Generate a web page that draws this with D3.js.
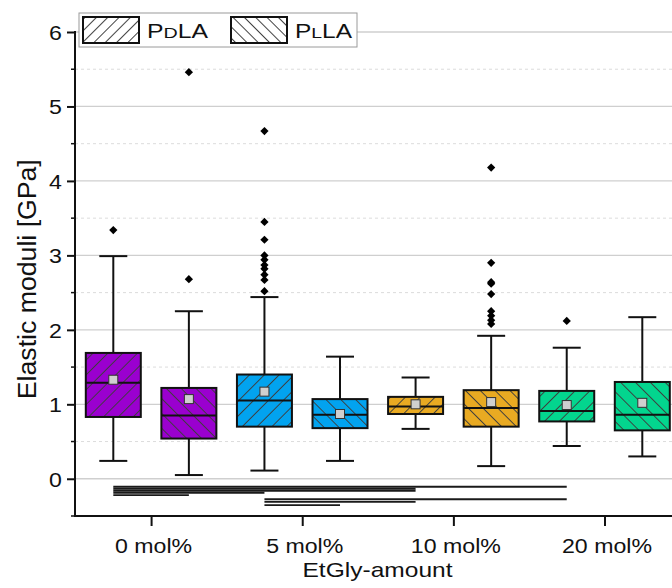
<!DOCTYPE html>
<html>
<head>
<meta charset="utf-8">
<script src="https://cdn.jsdelivr.net/npm/d3@7"></script>
<style>
  html, body { margin: 0; padding: 0; background: #fff; }
  svg { display: block; font-family: "Liberation Sans", Arial, sans-serif; }
</style>
</head>
<body>
<svg id="chart" width="672" height="588"></svg>
<script>
// Elastic moduli of PDLA / PLLA samples at four EtGly amounts
const groups = ["0 mol%", "5 mol%", "10 mol%", "20 mol%"];
const polymers = ["PDLA", "PLLA"];
const groupColors = ["#9a00cf", "#02a3ef", "#e9aa22", "#03d58e"];

// one entry per box, left to right
const boxGroup   = [0, 0, 1, 1, 2, 2, 3, 3];
const boxPolymer = [0, 1, 0, 1, 0, 1, 0, 1];
const whiskerLow  = [0.24, 0.05, 0.11, 0.24, 0.67, 0.17, 0.44, 0.30];
const q1          = [0.83, 0.54, 0.70, 0.68, 0.87, 0.70, 0.77, 0.65];
const median      = [1.29, 0.85, 1.05, 0.86, 0.97, 0.95, 0.91, 0.86];
const q3          = [1.69, 1.22, 1.40, 1.07, 1.10, 1.19, 1.18, 1.30];
const whiskerHigh = [2.99, 2.25, 2.44, 1.64, 1.36, 1.92, 1.76, 2.17];
const mean        = [1.33, 1.07, 1.17, 0.87, 1.00, 1.03, 0.99, 1.02];
const outliers = [
  [3.34],
  [2.68, 5.46],
  [2.52, 2.67, 2.74, 2.82, 2.87, 2.94, 3.00, 3.21, 3.45, 4.67],
  [],
  [],
  [2.08, 2.13, 2.19, 2.25, 2.48, 2.62, 2.64, 2.90, 4.18],
  [2.12],
  []
];

// each group's tick sits between its two boxes
const groupTickPos = [0.5, 2.5, 4.5, 6.5];
const yTicks = [0, 1, 2, 3, 4, 5, 6];
const yMinor = [-0.5, 0.5, 1.5, 2.5, 3.5, 4.5, 5.5];

// significance bars: from box, to box, height (GPa)
const sigFrom  = [0, 0, 0, 0, 0, 2, 2, 2];
const sigTo    = [6, 4, 4, 2, 1, 6, 4, 3];
const sigLevel = [-0.107, -0.134, -0.161, -0.188, -0.219, -0.275, -0.309, -0.353];

const svg = d3.select("#chart");
const plotLeft = 75, plotBottom = 516, plotTop = 32, plotRight = 672;
const textStretch = 1.13;

const x = d3.scaleLinear().domain([0, 7]).range([113.3, 642.3]);
const y = d3.scaleLinear().domain([-0.5, 6]).range([plotBottom, plotTop]);
const boxW = 55, capW = 28;

// hatch patterns
const defs = svg.append("defs");
function hatch(id, angle, size, color, width) {
  const p = defs.append("pattern")
    .attr("id", id).attr("patternUnits", "userSpaceOnUse")
    .attr("width", size).attr("height", size)
    .attr("patternTransform", `rotate(${angle})`);
  p.append("line").attr("x1", 0).attr("y1", 0).attr("x2", 0).attr("y2", size)
    .attr("stroke", color).attr("stroke-width", width);
}
hatch("hatch-d", 45, 10.5, "#3d3d3d", 1.9);
hatch("hatch-l", -45, 10.5, "#3d3d3d", 1.9);
hatch("leg-d", 45, 8, "#111", 1.6);
hatch("leg-l", -45, 8, "#111", 1.6);
const hatchId = ["hatch-d", "hatch-l"];
const legHatchId = ["leg-d", "leg-l"];

// grid
const grid = svg.append("g");
grid.selectAll("line.major").data(yTicks).join("line")
  .attr("x1", plotLeft).attr("x2", plotRight)
  .attr("y1", d => y(d)).attr("y2", d => y(d))
  .attr("stroke", "#cfcfcf").attr("stroke-width", 1.3);
grid.selectAll("line.minor").data(yMinor.filter(d => d > 0)).join("line")
  .attr("x1", plotLeft).attr("x2", plotRight)
  .attr("y1", d => y(d)).attr("y2", d => y(d))
  .attr("stroke", "#dcdcdc").attr("stroke-width", 1).attr("stroke-dasharray", "3,3");

// boxes
const idx = d3.range(q1.length);
const boxes = svg.append("g").selectAll("g").data(idx).join("g");

boxes.append("line")
  .attr("x1", i => x(i)).attr("x2", i => x(i))
  .attr("y1", i => y(whiskerLow[i])).attr("y2", i => y(q1[i]))
  .attr("stroke", "#111").attr("stroke-width", 2);
boxes.append("line")
  .attr("x1", i => x(i)).attr("x2", i => x(i))
  .attr("y1", i => y(whiskerHigh[i])).attr("y2", i => y(q3[i]))
  .attr("stroke", "#111").attr("stroke-width", 2);
boxes.append("line")
  .attr("x1", i => x(i) - capW / 2).attr("x2", i => x(i) + capW / 2)
  .attr("y1", i => y(whiskerLow[i])).attr("y2", i => y(whiskerLow[i]))
  .attr("stroke", "#111").attr("stroke-width", 2);
boxes.append("line")
  .attr("x1", i => x(i) - capW / 2).attr("x2", i => x(i) + capW / 2)
  .attr("y1", i => y(whiskerHigh[i])).attr("y2", i => y(whiskerHigh[i]))
  .attr("stroke", "#111").attr("stroke-width", 2);

boxes.append("rect")
  .attr("x", i => x(i) - boxW / 2).attr("width", boxW)
  .attr("y", i => y(q3[i])).attr("height", i => y(q1[i]) - y(q3[i]))
  .attr("fill", i => groupColors[boxGroup[i]]);
boxes.append("rect")
  .attr("x", i => x(i) - boxW / 2).attr("width", boxW)
  .attr("y", i => y(q3[i])).attr("height", i => y(q1[i]) - y(q3[i]))
  .attr("fill", i => `url(#${hatchId[boxPolymer[i]]})`)
  .attr("stroke", "#111").attr("stroke-width", 2);
boxes.append("line")
  .attr("x1", i => x(i) - boxW / 2).attr("x2", i => x(i) + boxW / 2)
  .attr("y1", i => y(median[i])).attr("y2", i => y(median[i]))
  .attr("stroke", "#111").attr("stroke-width", 2);
boxes.append("rect")
  .attr("x", i => x(i) - 4.5).attr("y", i => y(mean[i]) - 4.5)
  .attr("width", 9).attr("height", 9)
  .attr("fill", "#cfcfcf").attr("stroke", "#333").attr("stroke-width", 1);

// outliers: square markers turned 45 degrees
const outPts = idx.flatMap(i => outliers[i].map(v => ({ i, v })));
svg.append("g").selectAll("path").data(outPts).join("path")
  .attr("d", d3.symbol(d3.symbolSquare, 34))
  .attr("transform", d => `translate(${x(d.i)},${y(d.v)}) rotate(45)`)
  .attr("fill", "#000");

// significance bars
svg.append("g").selectAll("line").data(d3.range(sigFrom.length)).join("line")
  .attr("x1", k => x(sigFrom[k])).attr("x2", k => x(sigTo[k]))
  .attr("y1", k => y(sigLevel[k])).attr("y2", k => y(sigLevel[k]))
  .attr("stroke", "#1a1a1a").attr("stroke-width", 1.8);

// y axis
const yAxis = svg.append("g").attr("transform", `translate(${plotLeft},0)`)
  .call(d3.axisLeft(y).tickValues(yTicks).tickSize(8).tickPadding(5).tickFormat(d3.format("d")));
yAxis.select(".domain").remove();
yAxis.selectAll(".tick line").attr("stroke", "#111").attr("stroke-width", 2);
yAxis.selectAll(".tick text")
  .attr("x", null).attr("dy", null).attr("y", 7.3)
  .attr("transform", `translate(-13,0) scale(${textStretch},1)`)
  .attr("font-size", 20.5).attr("fill", "#111")
  .attr("font-family", "'Liberation Sans', Arial, sans-serif");
svg.append("g").selectAll("line").data(yMinor).join("line")
  .attr("x1", plotLeft - 4).attr("x2", plotLeft)
  .attr("y1", d => y(d)).attr("y2", d => y(d))
  .attr("stroke", "#111").attr("stroke-width", 1.5);
svg.append("line").attr("x1", plotLeft).attr("x2", plotLeft)
  .attr("y1", y(6) - 1).attr("y2", plotBottom + 1)
  .attr("stroke", "#111").attr("stroke-width", 2);

// x axis
const xAxis = svg.append("g").attr("transform", `translate(0,${plotBottom})`)
  .call(d3.axisBottom(x).tickValues(groupTickPos).tickSize(10)
    .tickFormat((d, k) => groups[k]));
xAxis.select(".domain").remove();
xAxis.selectAll(".tick line").attr("stroke", "#111").attr("stroke-width", 2);
xAxis.selectAll(".tick text")
  .attr("y", null).attr("dy", null)
  .attr("transform", `translate(2,36.5) scale(${textStretch},1)`)
  .attr("font-size", 20.5).attr("fill", "#111")
  .attr("font-family", "'Liberation Sans', Arial, sans-serif");
svg.append("line").attr("x1", plotLeft - 1).attr("x2", plotRight)
  .attr("y1", plotBottom).attr("y2", plotBottom)
  .attr("stroke", "#111").attr("stroke-width", 2);

// axis titles
svg.append("text").attr("transform", `translate(36,${y(2.68)}) rotate(-90)`)
  .attr("text-anchor", "middle").attr("font-size", 25).attr("fill", "#111")
  .attr("textLength", 240).attr("lengthAdjust", "spacingAndGlyphs")
  .text("Elastic moduli [GPa]");
svg.append("text").attr("x", 377.5).attr("y", 577)
  .attr("text-anchor", "middle").attr("font-size", 21).attr("fill", "#111")
  .attr("textLength", 150).attr("lengthAdjust", "spacingAndGlyphs")
  .text("EtGly-amount");

// legend
const leg = svg.append("g");
leg.append("rect").attr("x", 79).attr("y", 13).attr("width", 278).attr("height", 34)
  .attr("fill", "#fff").attr("stroke", "#9a9a9a").attr("stroke-width", 1);
const legX = [83, 231];
const legTextW = [61, 57];
polymers.forEach((p, k) => {
  leg.append("rect").attr("x", legX[k]).attr("y", 17).attr("width", 56).attr("height", 26)
    .attr("fill", `url(#${legHatchId[k]})`).attr("stroke", "#111").attr("stroke-width", 2);
  const t = leg.append("text").attr("x", legX[k] + 64).attr("y", 38)
    .attr("font-size", 19.5).attr("fill", "#111")
    .attr("textLength", legTextW[k]).attr("lengthAdjust", "spacingAndGlyphs");
  t.append("tspan").text(p[0]);
  t.append("tspan").attr("font-size", 15.5).text(p[1]);
  t.append("tspan").text(p.slice(2));
});
</script>
</body>
</html>
